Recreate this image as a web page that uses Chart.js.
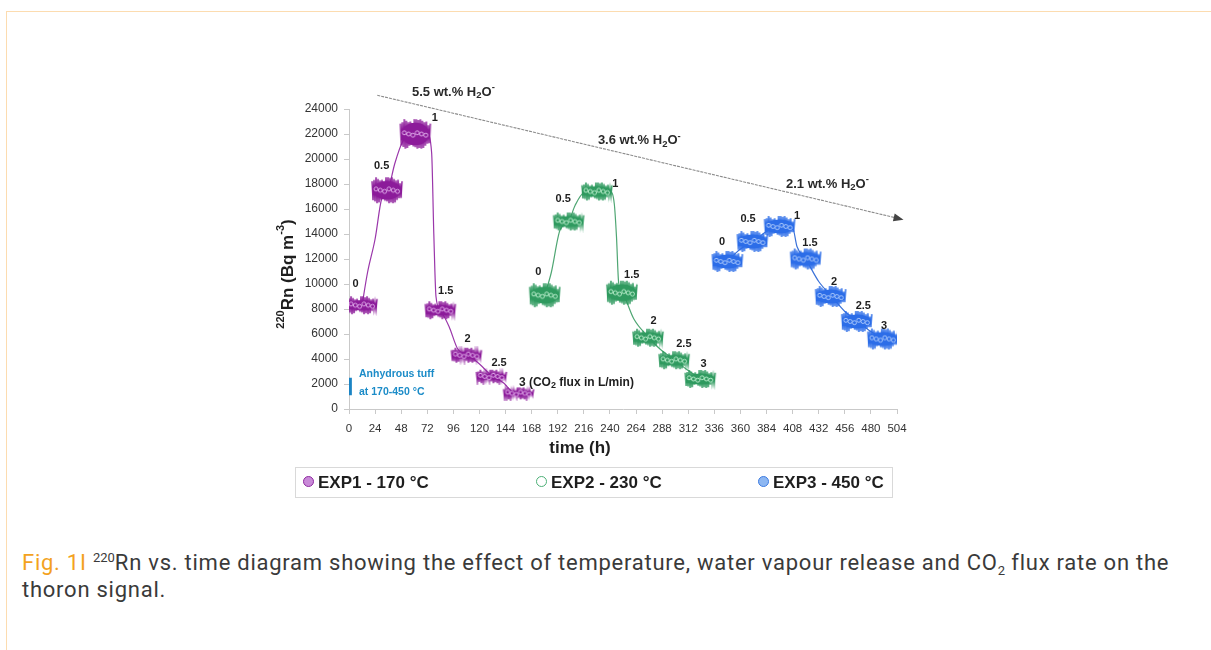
<!DOCTYPE html>
<html>
<head>
<meta charset="utf-8">
<script src="https://cdn.jsdelivr.net/npm/chart.js@4.4.0/dist/chart.umd.min.js"></script>
<style>
  html, body { margin: 0; padding: 0; background: #fff; width: 1211px; height: 650px; overflow: hidden; }
  #frame { position: absolute; left: 6px; top: 11px; width: 1400px; height: 900px;
           border-left: 1px solid #fcdcb0; border-top: 1px solid #fcdcb0; }
  #chart { position: absolute; left: 0; top: 0; }
  #legend { position: absolute; left: 295px; top: 467px; width: 598px; height: 31px; box-sizing: border-box;
            border: 1px solid #d9d9d9; font: bold 17px "Liberation Sans", Arial, sans-serif; color: #1e1e1e; }
  #legend .li { position: absolute; top: 0; line-height: 29px; white-space: nowrap; }
  #legend .li i { display: inline-block; width: 9px; height: 9px; border-radius: 50%; border: 1px solid;
                  margin-right: 4px; vertical-align: 1px; }
  #caption { position: absolute; left: 22px; top: 549px; width: 1170px; color: #3a3a3a;
             font: 22px/27px Roboto, "Noto Sans", sans-serif; letter-spacing: 0.75px; }
  #caption .fig { color: #f3a21e; }
  #caption sup { font-size: 13px; vertical-align: 8px; line-height: 0; letter-spacing: 0; }
  #caption sub { font-size: 13px; vertical-align: -5px; line-height: 0; letter-spacing: 0; }
</style>
</head>
<body>
<div id="frame"></div>
<canvas id="chart" width="1211" height="470" style="width:1211px;height:470px"></canvas>
<div id="legend"></div>
<div id="caption"><span class="fig">Fig. 1I</span> <sup>220</sup>Rn vs. time diagram showing the effect of temperature, water vapour release and CO<sub>2</sub> flux rate on the thoron signal.</div>

<script>
/* ── Data (hours, Bq m-3) ── */
const fluxSteps = ['0', '0.5', '1', '1.5', '2', '2.5', '3'];
const xTicks = [0, 24, 48, 72, 96, 120, 144, 168, 192, 216, 240, 264, 288, 312, 336, 360, 384, 408, 432, 456, 480, 504];
const yTicks = [0, 2000, 4000, 6000, 8000, 10000, 12000, 14000, 16000, 18000, 20000, 22000, 24000];
const seriesNames = ['EXP1 - 170 °C', 'EXP2 - 230 °C', 'EXP3 - 450 °C'];

// plateau centres per CO2 flux step
const exp1H = [12, 35, 61, 84, 108, 131, 156];
const exp1V = [8300, 17500, 22000, 7900, 4300, 2600, 1250];
const exp2H = [180, 202, 228, 251, 275, 299, 323];
const exp2V = [9100, 15000, 17400, 9300, 5700, 3900, 2400];
const exp3H = [348, 371, 396, 420, 443, 467, 491];
const exp3V = [11800, 13400, 14600, 12000, 9000, 7000, 5600];

// smoothed trend lines
const exp1LineH = [12, 17, 24, 30, 36, 42, 50, 60, 72, 76, 78, 80, 84, 92, 100, 110, 120, 132, 142, 150, 160];
const exp1LineV = [8300, 10900, 13600, 16800, 17500, 19600, 21500, 22000, 22000, 20500, 14000, 9000, 7900, 6600, 4800, 4300, 3600, 2600, 2100, 1400, 1200];
const exp2LineH = [180, 186, 194, 202, 208, 216, 228, 240, 244, 246, 248, 252, 262, 276, 286, 300, 310, 323];
const exp2LineV = [9100, 10900, 14300, 15000, 16300, 17300, 17400, 17400, 16400, 13800, 10100, 9200, 7200, 5700, 4800, 3900, 3200, 2450];
const exp3LineH = [348, 360, 372, 384, 397, 408, 412, 420, 432, 444, 456, 468, 480, 492];
const exp3LineV = [11800, 12800, 13400, 14200, 14600, 14500, 13000, 12000, 10200, 9000, 7800, 7000, 6200, 5600];

// flux step label anchors
const exp1LabelH = [6, 30, 79, 89, 109, 138, 159];
const exp1LabelV = [10030, 19420, 23280, 9470, 5620, 3690, 2090];
const exp2LabelH = [174, 197, 245, 260, 280, 308, 326];
const exp2LabelV = [11000, 16780, 17980, 10760, 7060, 5220, 3610];
const exp3LabelH = [343, 367, 412, 424, 446, 473, 492];
const exp3LabelV = [13400, 15170, 15410, 13320, 10190, 8270, 6660];

// anhydrous tuff range and water content trend
const anhydrousV = [1100, 2500];
const waterArrowH = [26, 510];
const waterArrowV = [25100, 15150];
const waterLabels = ['5.5', '3.6', '2.1'];
const waterLabelH = [96, 267, 440];
const waterLabelV = [25350, 21450, 17980];

/* ── Styles ── */
const FONT = '"Liberation Sans", Arial, Helvetica, sans-serif';
const STYLE = [
  { dark: '#8c1b9a', light: '#dfa9ea', line: '#9a36aa', lgFill: '#c98ad8', lgBorder: '#8e2aa0',
    band: v => 11 + v * 0.00085 },
  { dark: '#2f9a5f', light: '#b8edcb', line: '#4fa673', lgFill: '#ffffff', lgBorder: '#4caf76',
    band: v => (v < 9500 && v > 9000 ? 24 : 18) },
  { dark: '#2c6de8', light: '#a8c7fc', line: '#3b72d8', lgFill: '#8db7f2', lgBorder: '#3d7be0',
    band: v => 21 }
];

/* ── Noisy plateau marker ── */
const jagTop = [0, 4, 1, 3, 0, 5, 2, 1, 4, 0, 3, 2, 5, 1, 0, 3];
const jagBot = [2, 0, 4, 1, 5, 0, 3, 1, 0, 4, 2, 5, 0, 3, 1, 2];
const blobCache = {};
function makeBlob(dark, light, w, h) {
  const key = dark + w + '_' + Math.round(h);
  if (blobCache[key]) return blobCache[key];
  const pad = 2;
  const c = document.createElement('canvas');
  c.width = w + pad * 2; c.height = Math.round(h) + pad * 2;
  const g = c.getContext('2d');
  const mid = c.height / 2, half = h / 2;
  g.strokeStyle = dark; g.fillStyle = dark; g.lineWidth = 1.4;
  g.beginPath();
  for (let i = 0; i <= w; i++) {
    const edge = Math.min(1, (Math.min(i, w - i) + 2) / 6);
    const amp = half * (0.55 + 0.45 * edge);
    const yy = i % 2 === 0 ? mid - amp + jagTop[i % jagTop.length] * 0.8 : mid + amp - jagBot[i % jagBot.length] * 0.8;
    if (i === 0) g.moveTo(pad + i, yy); else g.lineTo(pad + i, yy);
  }
  g.stroke();
  g.beginPath();
  g.ellipse(pad + w / 2, mid, w / 2 - 1, Math.max(2, half - 3.5), 0, 0, Math.PI * 2);
  g.fill();
  g.strokeStyle = light; g.lineWidth = 1;
  for (let x = pad + 4, k = 0; x < pad + w - 3; x += 4.3, k++) {
    g.beginPath();
    g.arc(x, mid + (k % 3 - 1) * 1.2, 2, 0, Math.PI * 2);
    g.stroke();
  }
  blobCache[key] = c;
  return c;
}

const expH = [exp1H, exp2H, exp3H], expV = [exp1V, exp2V, exp3V];
const lineH = [exp1LineH, exp2LineH, exp3LineH], lineV = [exp1LineV, exp2LineV, exp3LineV];
const labH = [exp1LabelH, exp2LabelH, exp3LabelH], labV = [exp1LabelV, exp2LabelV, exp3LabelV];
const pts = (hs, vs) => hs.map((h, i) => ({ x: h, y: vs[i] }));

const datasets = [];
STYLE.forEach((s, k) => {
  datasets.push({
    label: seriesNames[k], data: pts(expH[k], expV[k]), order: 1,
    showLine: false, pointRadius: 3,
    pointStyle: c => makeBlob(s.dark, s.light, 30, s.band(c.raw ? c.raw.y : 10000))
  });
  datasets.push({
    label: seriesNames[k] + ' trend', data: pts(lineH[k], lineV[k]), order: 3,
    showLine: true, borderColor: s.line, borderWidth: 1.2, pointRadius: 0,
    cubicInterpolationMode: 'monotone'
  });
});
datasets.push({
  label: 'Anhydrous tuff', data: [{ x: 0.8, y: anhydrousV[0] }, { x: 0.8, y: anhydrousV[1] }], order: 2,
  showLine: true, borderColor: '#1b84c4', borderWidth: 4, borderCapStyle: 'butt', pointRadius: 0
});

/* ── Text helpers ── */
function rich(ctx, parts, x, y, align) {
  let w = 0;
  parts.forEach(p => { ctx.font = `bold ${p[1]}px ${FONT}`; w += ctx.measureText(p[0]).width; });
  let cx = align === 'center' ? x - w / 2 : x;
  ctx.textAlign = 'left';
  parts.forEach(p => {
    ctx.font = `bold ${p[1]}px ${FONT}`;
    ctx.fillText(p[0], cx, y + p[2]);
    cx += ctx.measureText(p[0]).width;
  });
}

const overlay = {
  id: 'overlay',
  afterDatasetsDraw(chart) {
    const { ctx, scales: { x, y } } = chart;
    const px = h => x.getPixelForValue(h), py = v => y.getPixelForValue(v);
    ctx.save();
    ctx.textBaseline = 'middle';

    // water content arrow
    const x0 = px(waterArrowH[0]), y0 = py(waterArrowV[0]);
    const x1 = px(waterArrowH[1]), y1 = py(waterArrowV[1]);
    const a = Math.atan2(y1 - y0, x1 - x0);
    ctx.strokeStyle = '#8c8c8c'; ctx.lineWidth = 1.1;
    ctx.setLineDash([3, 1]);
    ctx.beginPath(); ctx.moveTo(x0, y0); ctx.lineTo(x1 - 8 * Math.cos(a), y1 - 8 * Math.sin(a)); ctx.stroke();
    ctx.setLineDash([]);
    ctx.fillStyle = '#444';
    ctx.beginPath();
    ctx.moveTo(x1, y1);
    ctx.lineTo(x1 - 10 * Math.cos(a) + 4 * Math.sin(a), y1 - 10 * Math.sin(a) - 4 * Math.cos(a));
    ctx.lineTo(x1 - 10 * Math.cos(a) - 4 * Math.sin(a), y1 - 10 * Math.sin(a) + 4 * Math.cos(a));
    ctx.closePath(); ctx.fill();

    ctx.fillStyle = '#2a2a2a';
    waterLabels.forEach((t, i) => {
      rich(ctx, [[t + ' wt.% H', 13, 0], ['2', 9.5, 3], ['O', 13, 0], ['-', 9.5, -5]],
        px(waterLabelH[i]), py(waterLabelV[i]), 'center');
    });

    // flux step labels
    ctx.fillStyle = '#1e1e1e';
    labH.forEach((hs, k) => hs.forEach((h, i) => {
      if (k === 0 && i === fluxSteps.length - 1) {
        rich(ctx, [[fluxSteps[i] + ' (CO', 12, 0], ['2', 9, 3], [' flux in L/min)', 12, 0]],
          px(h) - 3, py(labV[k][i]), 'left');
      } else {
        rich(ctx, [[fluxSteps[i], 11, 0]], px(h), py(labV[k][i]), 'center');
      }
    }));

    // anhydrous tuff note
    ctx.fillStyle = '#1c8cc8';
    rich(ctx, [['Anhydrous tuff', 10.5, 0]], px(9.2), py(2810), 'left');
    rich(ctx, [['at 170-450 °C', 10.5, 0]], px(9.2), py(1360), 'left');

    // axis titles
    ctx.fillStyle = '#1e1e1e';
    rich(ctx, [['time (h)', 17, 0]], 580, 448, 'center');
    ctx.translate(288, 274);
    ctx.rotate(-Math.PI / 2);
    rich(ctx, [['220', 11, -7], ['Rn (Bq m', 17, 0], ['-3', 11, -7], [')', 17, 0]], 0, 0, 'center');
    ctx.restore();
  }
};

/* ── Chart ── */
Chart.defaults.font.family = FONT;
new Chart(document.getElementById('chart'), {
  type: 'scatter',
  data: { datasets },
  options: {
    responsive: false, animation: false,
    layout: { padding: { left: 289, right: 314, top: 109, bottom: 31 } },
    plugins: { legend: { display: false }, tooltip: { enabled: false } },
    scales: {
      x: {
        type: 'linear', min: 0, max: 504,
        afterFit: s => { s.height = 30; },
        afterBuildTicks: s => { s.ticks = xTicks.map(v => ({ value: v })); },
        ticks: { color: '#333', font: { size: 11.5 }, padding: 8, maxRotation: 0, autoSkip: false,
                 callback: v => String(v) },
        grid: { drawOnChartArea: false, tickLength: 5, color: '#c9c9c9' },
        border: { color: '#c9c9c9' }
      },
      y: {
        min: 0, max: 24000,
        afterFit: s => { s.width = 60; },
        afterBuildTicks: s => { s.ticks = yTicks.map(v => ({ value: v })); },
        ticks: { color: '#333', font: { size: 12 }, padding: 6, callback: v => String(v) },
        grid: { drawOnChartArea: false, tickLength: 5, color: '#c9c9c9' },
        border: { color: '#c9c9c9' }
      }
    }
  },
  plugins: [overlay]
});

/* ── Legend ── */
const legendLeft = [7, 240, 462];
const lg = document.getElementById('legend');
seriesNames.forEach((n, k) => {
  const d = document.createElement('div');
  d.className = 'li';
  d.style.left = legendLeft[k] + 'px';
  d.innerHTML = `<i style="background:${STYLE[k].lgFill};border-color:${STYLE[k].lgBorder}"></i>${n}`;
  lg.appendChild(d);
});
</script>
</body>
</html>
